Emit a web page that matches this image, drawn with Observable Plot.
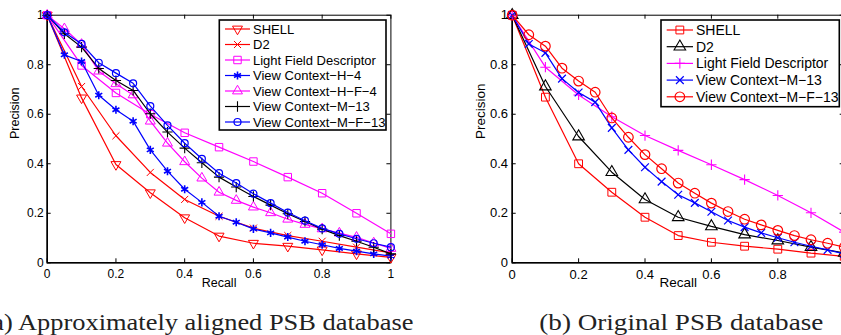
<!DOCTYPE html>
<html>
<head>
<meta charset="utf-8">
<script src="https://cdn.jsdelivr.net/npm/d3@7"></script>
<script src="https://cdn.jsdelivr.net/npm/@observablehq/plot@0.6"></script>
<style>
  html, body { margin: 0; padding: 0; background: #fff; }
  #wrap { position: relative; width: 841px; height: 335px; overflow: hidden; background: #fff; }
  #wrap > div, #wrap > svg { position: absolute; top: 0; }
  #wrap svg { max-width: none !important; }
</style>
</head>
<body>
<div id="wrap">
  <div id="pa" style="left:0px;width:420px;height:300px"></div>
  <div id="pb" style="left:420px;width:430px;height:300px"></div>
  <svg id="overlay" width="841" height="335" style="left:0;pointer-events:none"></svg>
</div>
<script>
// ---------- data ----------
const xTicks = [0, 0.2, 0.4, 0.6, 0.8, 1];
const yTicks = [0, 0.2, 0.4, 0.6, 0.8, 1];
const recall10 = [0, 0.1, 0.2, 0.3, 0.4, 0.5, 0.6, 0.7, 0.8, 0.9, 1];
const recall05 = [0, 0.05, 0.1, 0.15, 0.2, 0.25, 0.3, 0.35, 0.4, 0.45, 0.5, 0.55, 0.6, 0.65, 0.7, 0.75, 0.8, 0.85, 0.9, 0.95, 1];

// (a) Approximately aligned PSB database
const aNames = ["SHELL", "D2", "Light Field Descriptor", "View Context\u2212H\u22124", "View Context\u2212H\u2212F\u22124", "View Context\u2212M\u221213", "View Context\u2212M\u2212F\u221213"];
const aShell = [1, 0.666, 0.397, 0.283, 0.182, 0.108, 0.079, 0.067, 0.052, 0.036, 0.022];
const aD2 = [1, 0.712, 0.513, 0.365, 0.256, 0.188, 0.14, 0.11, 0.087, 0.063, 0.04];
const aLFD = [1, 0.797, 0.686, 0.6, 0.525, 0.467, 0.409, 0.346, 0.281, 0.2, 0.117];
const aVCH4 = [1, 0.84, 0.813, 0.677, 0.618, 0.572, 0.456, 0.37, 0.297, 0.244, 0.188, 0.164, 0.137, 0.121, 0.104, 0.087, 0.073, 0.058, 0.047, 0.036, 0.027];
const aVCHF4 = [1, 0.945, 0.882, 0.774, 0.723, 0.678, 0.572, 0.483, 0.408, 0.342, 0.285, 0.252, 0.225, 0.202, 0.176, 0.155, 0.137, 0.12, 0.103, 0.08, 0.058];
const aVCM13 = [1, 0.925, 0.871, 0.785, 0.736, 0.696, 0.602, 0.528, 0.463, 0.404, 0.346, 0.306, 0.268, 0.233, 0.198, 0.167, 0.136, 0.11, 0.087, 0.063, 0.036];
const aVCMF13 = [1, 0.931, 0.884, 0.808, 0.766, 0.725, 0.633, 0.555, 0.483, 0.42, 0.362, 0.322, 0.279, 0.241, 0.203, 0.17, 0.139, 0.117, 0.097, 0.079, 0.063];

// (b) Original PSB database
const bNames = ["SHELL", "D2", "Light Field Descriptor", "View Context\u2212M\u221213", "View Context\u2212M\u2212F\u221213"];
const bShell = [1, 0.669, 0.4, 0.285, 0.184, 0.11, 0.083, 0.067, 0.055, 0.039, 0.026];
const bD2 = [1, 0.712, 0.51, 0.366, 0.256, 0.184, 0.147, 0.114, 0.09, 0.063, 0.04];
const bLFD = [1, 0.79, 0.678, 0.59, 0.514, 0.454, 0.396, 0.336, 0.272, 0.202, 0.124];
const bVCM13 = [1, 0.884, 0.848, 0.744, 0.688, 0.649, 0.545, 0.456, 0.386, 0.328, 0.275, 0.242, 0.206, 0.171, 0.144, 0.121, 0.101, 0.083, 0.067, 0.052, 0.036];
const bVCMF13 = [1, 0.921, 0.875, 0.786, 0.734, 0.689, 0.585, 0.507, 0.437, 0.38, 0.322, 0.281, 0.241, 0.207, 0.176, 0.153, 0.131, 0.11, 0.093, 0.079, 0.063];

const captionA = "(a) Approximately aligned PSB database";
const captionB = "(b) Original PSB database";

// ---------- styling ----------
const RED = "#ff0000", MAG = "#ff00ff", BLUE = "#0000ff", BLACK = "#000000";
const triangleDown = {
  draw(context, size) {
    const y = Math.sqrt(size / (3 * Math.sqrt(3)));
    const s3 = Math.sqrt(3);
    context.moveTo(0, 2 * y);
    context.lineTo(-s3 * y, -y);
    context.lineTo(s3 * y, -y);
    context.closePath();
  }
};
const symMap = {
  triangleDown: triangleDown,
  triangle: d3.symbolTriangle,
  times: d3.symbolTimes,
  square: d3.symbolSquare,
  asterisk: d3.symbolAsterisk,
  plus: d3.symbolPlus,
  circle: d3.symbolCircle
};

const seriesA = [
  {name: aNames[0], xs: recall10, ys: aShell, color: RED, symbol: "triangleDown", r: 3.7, sw: 1},
  {name: aNames[1], xs: recall10, ys: aD2, color: RED, symbol: "times", r: 3.3, sw: 1},
  {name: aNames[2], xs: recall10, ys: aLFD, color: MAG, symbol: "square", r: 4.2, sw: 1},
  {name: aNames[3], xs: recall05, ys: aVCH4, color: BLUE, symbol: "asterisk", r: 3.8, sw: 1.6},
  {name: aNames[4], xs: recall05, ys: aVCHF4, color: MAG, symbol: "triangle", r: 3.7, sw: 1},
  {name: aNames[5], xs: recall05, ys: aVCM13, color: BLACK, symbol: "plus", r: 3.4, sw: 1.1},
  {name: aNames[6], xs: recall05, ys: aVCMF13, color: BLUE, symbol: "circle", r: 3.5, sw: 1.2}
];
const seriesB = [
  {name: bNames[0], xs: recall10, ys: bShell, color: RED, symbol: "square", r: 4.4, sw: 1},
  {name: bNames[1], xs: recall10, ys: bD2, color: BLACK, symbol: "triangle", r: 4.3, sw: 1.1},
  {name: bNames[2], xs: recall10, ys: bLFD, color: MAG, symbol: "plus", r: 3.4, sw: 1.1},
  {name: bNames[3], xs: recall05, ys: bVCM13, color: BLUE, symbol: "times", r: 3.6, sw: 1.2},
  {name: bNames[4], xs: recall05, ys: bVCMF13, color: RED, symbol: "circle", r: 4.8, sw: 1.2}
];

function chart(series, o) {
  const innerW = o.width - o.ml - o.mr;
  const innerH = o.height - o.mt - o.mb;
  const tx = o.tick / innerH; // tick length in y data units
  const ty = o.tick / innerW; // tick length in x data units
  const marks = [
    Plot.frame({stroke: BLACK, strokeWidth: 1}),
    Plot.ruleX([0], {x: d => d, stroke: BLACK, strokeWidth: 1.6}),
    Plot.ruleY([0], {y: d => d, stroke: BLACK, strokeWidth: 1.6}),
    Plot.ruleX(xTicks, {x: d => d, y1: () => 0, y2: () => tx, stroke: BLACK, strokeWidth: 1}),
    Plot.ruleX(xTicks, {x: d => d, y1: () => 1, y2: () => 1 - tx, stroke: BLACK, strokeWidth: 1}),
    Plot.ruleY(yTicks, {y: d => d, x1: () => 0, x2: () => ty, stroke: BLACK, strokeWidth: 1}),
    Plot.ruleY(yTicks, {y: d => d, x1: () => 1, x2: () => 1 - ty, stroke: BLACK, strokeWidth: 1}),
    Plot.axisX(xTicks, {tickSize: 0, tickPadding: o.padX, tickFormat: d => String(d), label: null, fontSize: o.tickFont}),
    Plot.axisY(yTicks, {tickSize: 0, tickPadding: o.padY, tickFormat: d => String(d), label: null, fontSize: o.tickFont}),
    Plot.text(["Recall"], {text: d => d, frameAnchor: "bottom", dy: 24.4, fontSize: o.labelFont}),
    Plot.text(["Precision"], {text: d => d, frameAnchor: "left", rotate: -90, dx: -32, fontSize: o.labelFont})
  ];
  for (const s of series) {
    const rows = s.xs.map((x, i) => ({x, y: s.ys[i]}));
    marks.push(Plot.line(rows, {x: "x", y: "y", stroke: s.color, strokeWidth: 1.2}));
    marks.push(Plot.dot(rows, {x: "x", y: "y", stroke: s.color, fill: "none", r: s.r, symbol: symMap[s.symbol], strokeWidth: s.sw}));
  }
  return Plot.plot({
    width: o.width, height: o.height,
    marginLeft: o.ml, marginRight: o.mr, marginTop: o.mt, marginBottom: o.mb,
    x: {domain: [0, 1]},
    y: {domain: [0, 1]},
    style: {fontFamily: "'Liberation Sans', Arial, Helvetica, sans-serif", fontSize: o.tickFont + "px", background: "transparent", overflow: "visible", color: "black", maxWidth: "none"},
    marks
  });
}

document.getElementById("pa").appendChild(chart(seriesA, {
  width: 420, height: 300, ml: 46.7, mr: 29.6, mt: 14.7, mb: 37.7,
  tick: 4, tickFont: 12, labelFont: 12.5, padX: 6.5, padY: 3.5
}));
document.getElementById("pb").appendChild(chart(seriesB, {
  width: 430, height: 300, ml: 91.7, mr: 6.3, mt: 14.7, mb: 37.7,
  tick: 4, tickFont: 13, labelFont: 13.5, padX: 6.5, padY: 4.2
}));

// ---------- legends and captions ----------
const ov = d3.select("#overlay");
function legend(series, L) {
  const g = ov.append("g");
  g.append("rect").attr("x", L.x0).attr("y", L.y0).attr("width", L.x1 - L.x0).attr("height", L.y1 - L.y0)
    .attr("fill", "white").attr("stroke", "black").attr("stroke-width", 1.6);
  series.forEach((s, i) => {
    const y = L.ys + i * L.dy;
    g.append("line").attr("x1", L.lx0).attr("x2", L.lx1).attr("y1", y).attr("y2", y)
      .attr("stroke", s.color).attr("stroke-width", 1.2);
    g.append("path").attr("transform", `translate(${(L.lx0 + L.lx1) / 2},${y})`)
      .attr("d", d3.symbol(symMap[s.symbol], Math.PI * s.r * s.r)())
      .attr("fill", "none").attr("stroke", s.color).attr("stroke-width", s.sw);
    g.append("text").attr("x", L.tx).attr("y", y).attr("dy", "0.35em")
      .attr("font-family", "'Liberation Sans', Arial, Helvetica, sans-serif")
      .attr("font-size", L.font).attr("fill", "black").text(s.name);
  });
}
legend(seriesA, {x0: 219.3, y0: 20, x1: 386, y1: 130, ys: 29, dy: 15.5, lx0: 225, lx1: 250, tx: 253, font: 13});
legend(seriesB, {x0: 661, y0: 20, x1: 839.3, y1: 106.7, ys: 30, dy: 16.7, lx0: 666.7, lx1: 693, tx: 696, font: 14});

function caption(text, x, len) {
  ov.append("text").attr("x", x).attr("y", 329.5)
    .attr("font-family", "'Liberation Serif', 'Times New Roman', serif")
    .attr("font-size", 23.5).attr("fill", "#222")
    .attr("textLength", len).attr("lengthAdjust", "spacingAndGlyphs")
    .text(text);
}
caption(captionA, -16.5, 430);
caption(captionB, 539.3, 284);
</script>
</body>
</html>
